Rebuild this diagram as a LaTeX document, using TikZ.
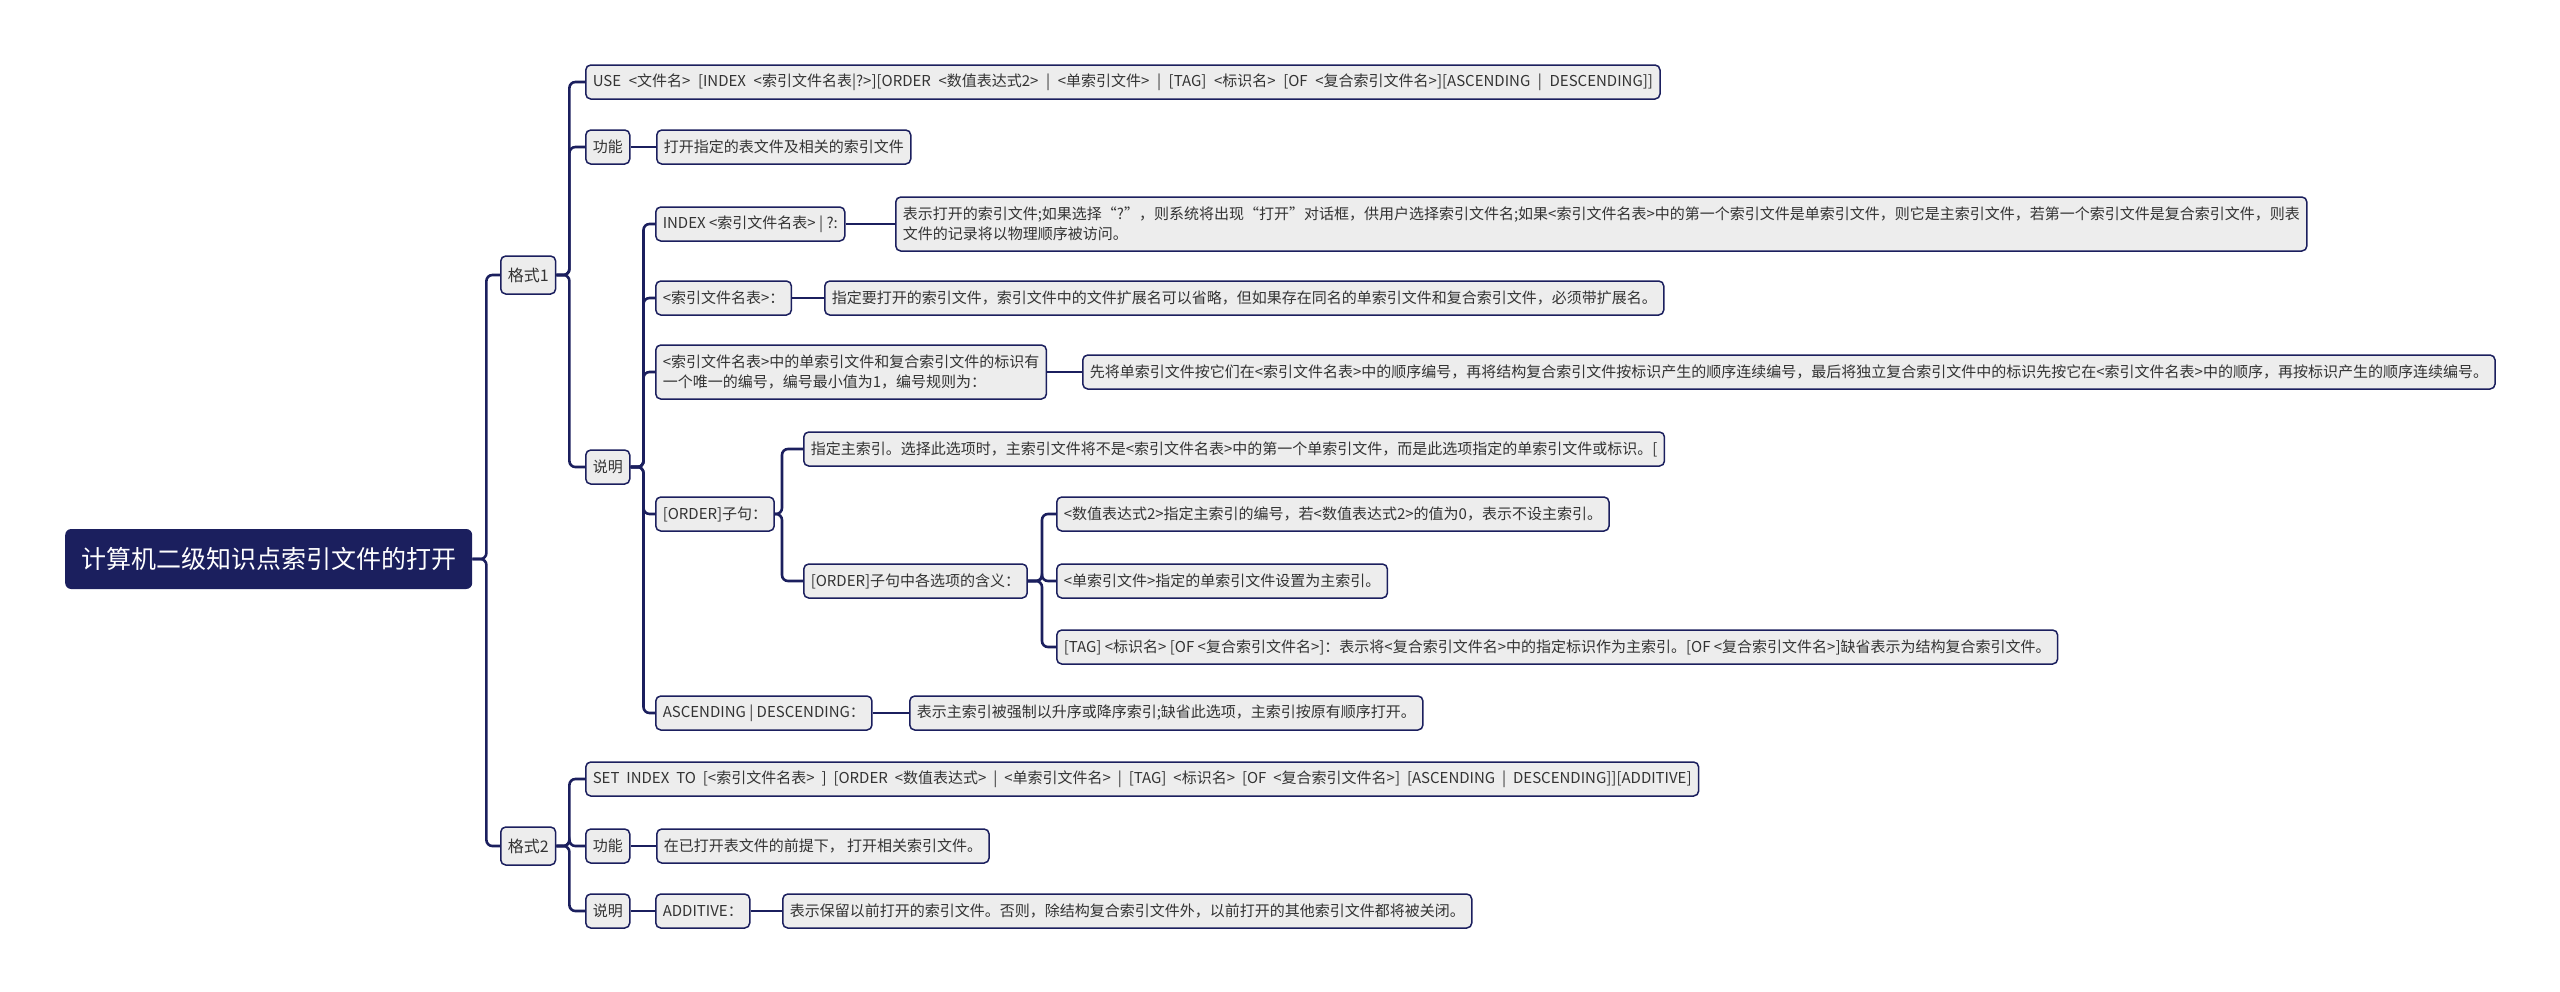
\documentclass[tikz,border=0pt]{standalone}
\usepackage{fontspec}
\setmainfont{Noto Sans CJK SC}
\usetikzlibrary{positioning,calc}
\definecolor{mapnavy}{HTML}{1B1F5E}
\definecolor{boxgray}{HTML}{EDEDED}
\definecolor{txtgray}{HTML}{333333}
\newcommand\widespaces[1]{\spaceskip=#1\relax}
\tikzset{
  box/.style={draw=mapnavy, line width=1.5pt, fill=boxgray, rounded corners=5pt,
    text=txtgray, font=\fontsize{15}{20}\selectfont, inner xsep=7pt, inner ysep=4pt,
    minimum height=34pt, anchor=west, align=left},
  widebox/.style={box, font=\fontsize{15}{20}\selectfont\widespaces{#1}},
  topic/.style={box, minimum height=38pt, font=\fontsize{16}{20}\selectfont},
  link/.style={draw=mapnavy, line width=2.6pt, rounded corners=6pt},
}

\begin{document}
\begin{tikzpicture}[x=1pt,y=-1pt]
  \useasboundingbox (0,0) rectangle (2560,991);
  % root
  \node[fill=mapnavy, rounded corners=6pt, text=white, font=\fontsize{25}{30}\selectfont,
    minimum height=60pt, inner xsep=16pt, anchor=west] (root) at (65,559) {计算机二级知识点索引文件的打开};
  % main branches
  \node[topic] (f1) at (500,275) {格式1};
  \node[topic] (f2) at (500,846) {格式2};

  % format 1
  \node[widebox=7.6pt] (use) at (585,82) {USE <文件名> [INDEX <索引文件名表|?>][ORDER <数值表达式2> | <单索引文件> | [TAG] <标识名> [OF <复合索引文件名>][ASCENDING | DESCENDING]]};
  \node[box] (fn1) at (585,147) {功能};
  \node[box] (fn1d) at (656,147) {打开指定的表文件及相关的索引文件};
  \node[box] (ex1) at (585,467) {说明};

  \node[box] (idx) at (655,224) {INDEX <索引文件名表> | ?:};
  \node[box, minimum height=54pt] (idxd) at (895,224) {表示打开的索引文件;如果选择“?”，则系统将出现“打开”对话框，供用户选择索引文件名;如果<索引文件名表>中的第一个索引文件是单索引文件，则它是主索引文件，若第一个索引文件是复合索引文件，则表\\文件的记录将以物理顺序被访问。};
  \node[box] (names) at (655,298) {<索引文件名表>：};
  \node[box] (namesd) at (824,298) {指定要打开的索引文件，索引文件中的文件扩展名可以省略，但如果存在同名的单索引文件和复合索引文件，必须带扩展名。};
  \node[box, minimum height=54pt] (ident) at (655,372) {<索引文件名表>中的单索引文件和复合索引文件的标识有\\一个唯一的编号，编号最小值为1，编号规则为：};
  \node[box] (identd) at (1082,372) {先将单索引文件按它们在<索引文件名表>中的顺序编号，再将结构复合索引文件按标识产生的顺序连续编号，最后将独立复合索引文件中的标识先按它在<索引文件名表>中的顺序，再按标识产生的顺序连续编号。};
  \node[box] (order) at (655,514) {[ORDER]子句：};
  \node[box] (ordmain) at (803,449) {指定主索引。选择此选项时，主索引文件将不是<索引文件名表>中的第一个单索引文件，而是此选项指定的单索引文件或标识。[};
  \node[box] (ordopt) at (803,581) {[ORDER]子句中各选项的含义：};
  \node[box] (optnum) at (1056,514) {<数值表达式2>指定主索引的编号，若<数值表达式2>的值为0，表示不设主索引。};
  \node[box] (optsingle) at (1056,581) {<单索引文件>指定的单索引文件设置为主索引。};
  \node[box] (opttag) at (1056,647) {[TAG] <标识名> [OF <复合索引文件名>]：表示将<复合索引文件名>中的指定标识作为主索引。[OF <复合索引文件名>]缺省表示为结构复合索引文件。};
  \node[box] (asc) at (655,713) {ASCENDING | DESCENDING：};
  \node[box] (ascd) at (909,713) {表示主索引被强制以升序或降序索引;缺省此选项，主索引按原有顺序打开。};

  % format 2
  \node[widebox=6.9pt] (set) at (585,779) {SET INDEX TO [<索引文件名表> ] [ORDER <数值表达式> | <单索引文件名> | [TAG] <标识名> [OF <复合索引文件名>] [ASCENDING | DESCENDING]][ADDITIVE]};
  \node[box] (fn2) at (585,846) {功能};
  \node[box] (fn2d) at (656,846) {在已打开表文件的前提下， 打开相关索引文件。};
  \node[box] (ex2) at (585,911) {说明};
  \node[box] (add) at (655,911) {ADDITIVE：};
  \node[box] (addd) at (782,911) {表示保留以前打开的索引文件。否则，除结构复合索引文件外，以前打开的其他索引文件都将被关闭。};

  % connectors
  \draw[link] (root.east) -- ++(14,0) |- (f1.west);
  \draw[link] (root.east) -- ++(14,0) |- (f2.west);

  \draw[link] (f1.east) -- ++(13,0) |- (use.west);
  \draw[link] (f1.east) -- ++(13,0) |- (fn1.west);
  \draw[link] (f1.east) -- ++(13,0) |- (ex1.west);
  \draw[link] (fn1.east) -- (fn1d.west);

  \draw[link] (ex1.east) -- ++(13,0) |- (idx.west);
  \draw[link] (ex1.east) -- ++(13,0) |- (names.west);
  \draw[link] (ex1.east) -- ++(13,0) |- (ident.west);
  \draw[link] (ex1.east) -- ++(13,0) |- (order.west);
  \draw[link] (ex1.east) -- ++(13,0) |- (asc.west);
  \draw[link] (idx.east) -- (idx.east -| idxd.west);
  \draw[link] (names.east) -- (namesd.west);
  \draw[link] (ident.east) -- (identd.west);
  \draw[link] (asc.east) -- (ascd.west);

  \draw[link] (order.east) -- ++(7,0) |- (ordmain.west);
  \draw[link] (order.east) -- ++(7,0) |- (ordopt.west);
  \draw[link] (ordopt.east) -- ++(14,0) |- (optnum.west);
  \draw[link] (ordopt.east) -- ++(14,0) |- (optsingle.west);
  \draw[link] (ordopt.east) -- ++(14,0) |- (opttag.west);

  \draw[link] (f2.east) -- ++(13,0) |- (set.west);
  \draw[link] (f2.east) -- ++(13,0) |- (fn2.west);
  \draw[link] (f2.east) -- ++(13,0) |- (ex2.west);
  \draw[link] (fn2.east) -- (fn2d.west);
  \draw[link] (ex2.east) -- (add.west);
  \draw[link] (add.east) -- (addd.west);
\end{tikzpicture}
\end{document}
